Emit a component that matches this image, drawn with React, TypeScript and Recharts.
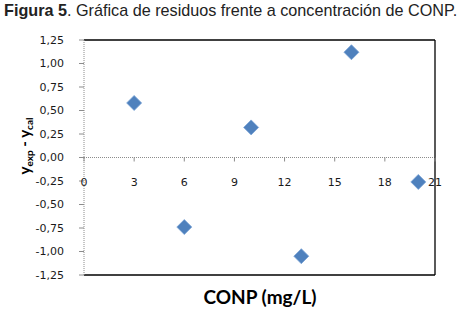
import React from 'react';
import {
  ScatterChart,
  Scatter,
  XAxis,
  YAxis,
  ReferenceLine,
  Label,
} from 'recharts';

// CONP concentration (mg/L) and residuals (y_exp - y_cal)
const concentrations = [3, 6, 10, 13, 16, 20];
const residuals = [0.58, -0.74, 0.32, -1.05, 1.12, -0.26];

const xTicks = [0, 3, 6, 9, 12, 15, 18, 21];
const yTicks = [-1.25, -1.0, -0.75, -0.5, -0.25, 0, 0.25, 0.5, 0.75, 1.0, 1.25];

const data = concentrations.map((x, i) => ({ x, y: residuals[i] }));

const W = 462;
const H = 311;
const PLOT_TOP = 40;
const X_AXIS_H = 30;
const MARGIN_BOTTOM = 6;
const PLOT_H = H - PLOT_TOP - X_AXIS_H - MARGIN_BOTTOM;
const ZERO_Y = PLOT_TOP + PLOT_H / 2; // domain is symmetric around 0

const tickFont = 'DejaVu Sans, Tahoma, sans-serif';

// Diamond marker like Excel's
const Diamond = (props: any) => {
  const { cx, cy } = props;
  if (cx == null || cy == null) return null;
  const r = 7.5;
  return (
    <polygon
      points={`${cx},${cy - r} ${cx + r},${cy} ${cx},${cy + r} ${cx - r},${cy}`}
      fill="#4F81BD"
      stroke="#7aa3d6"
      strokeWidth={0.8}
    />
  );
};

// x ticks sit on the zero line, labels hang a bit below it
const XTick = (props: any) => {
  const { x, payload } = props;
  return (
    <g>
      <line x1={x} x2={x} y1={ZERO_Y} y2={ZERO_Y + 4} stroke="#8c8c8c" />
      <text
        x={x}
        y={ZERO_Y + 28}
        textAnchor="middle"
        fill="#1a1a1a"
        fontSize={11}
        style={{ fontFamily: tickFont }}
      >
        {payload.value}
      </text>
    </g>
  );
};

const YLabel = () => {
  const cx = 30;
  const cy = 146;
  return (
    <text
      x={cx}
      y={cy}
      transform={`rotate(-90, ${cx}, ${cy})`}
      textAnchor="middle"
      fill="#000"
      fontWeight={700}
      fontSize={15}
      style={{ fontFamily: 'Lato, sans-serif' }}
    >
      <tspan>y</tspan>
      <tspan fontSize={10} dy={3}>exp</tspan>
      <tspan dy={-3}> - y</tspan>
      <tspan fontSize={10} dy={3}>cal</tspan>
    </text>
  );
};

export default function App() {
  return (
    <div style={{ position: 'absolute', left: 0, top: 0, width: W, height: H, background: '#fff' }}>
      <div
        style={{
          position: 'absolute',
          left: 4,
          top: 2,
          fontFamily: 'Liberation Sans, Arial, sans-serif',
          fontSize: 16.2,
          lineHeight: '16px',
          color: '#222',
          whiteSpace: 'nowrap',
        }}
      >
        <b>Figura 5</b>. Gráfica de residuos frente a concentración de CONP.
      </div>
      <ScatterChart
        width={W}
        height={H}
        margin={{ top: PLOT_TOP, right: 27, bottom: MARGIN_BOTTOM, left: 0 }}
      >
        <XAxis
          type="number"
          dataKey="x"
          domain={[0, 21]}
          ticks={xTicks}
          interval={0}
          height={X_AXIS_H}
          axisLine={false}
          tickLine={false}
          tick={<XTick />}
        >
          <Label
            value="CONP (mg/L)"
            position="bottom"
            offset={0}
            content={() => (
              <text
                x={260}
                y={304}
                textAnchor="middle"
                fill="#000"
                fontWeight={700}
                fontSize={19}
                style={{ fontFamily: 'Lato, sans-serif' }}
              >
                CONP (mg/L)
              </text>
            )}
          />
        </XAxis>
        <YAxis
          type="number"
          dataKey="y"
          domain={[-1.25, 1.25]}
          ticks={yTicks}
          interval={0}
          width={84}
          axisLine={{ stroke: '#8c8c8c', strokeDasharray: '1 1' }}
          tickLine={{ stroke: '#8c8c8c' }}
          tickSize={5}
          tickMargin={15}
          tick={{ fill: '#1a1a1a', fontSize: 11, fontFamily: tickFont }}
          tickFormatter={(v: number) => v.toFixed(2).replace('.', ',')}
        >
          <Label content={<YLabel />} />
        </YAxis>

        <ReferenceLine y={0} stroke="#8c8c8c" strokeDasharray="1 1" />
        <ReferenceLine y={1.25} stroke="#000" strokeWidth={1.3} />
        <ReferenceLine y={-1.25} stroke="#000" strokeWidth={1.3} />
        <ReferenceLine x={21} stroke="#000" strokeWidth={1.3} />

        <Scatter data={data} shape={<Diamond />} isAnimationActive={false} />
      </ScatterChart>
    </div>
  );
}
